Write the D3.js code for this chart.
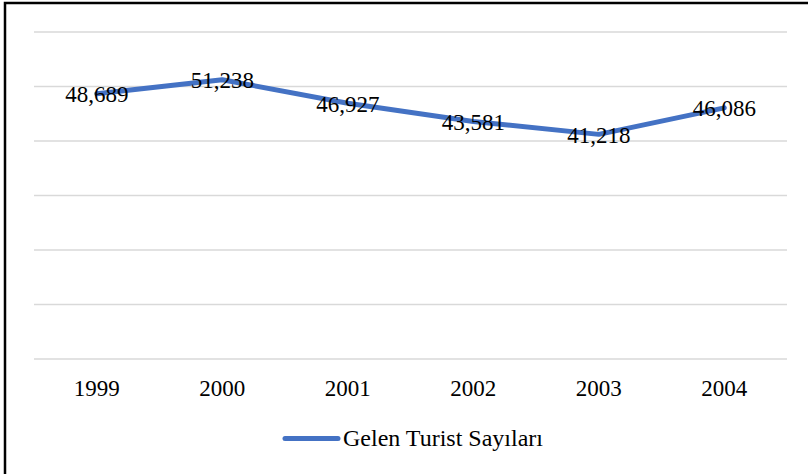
<!DOCTYPE html>
<html><head><meta charset="utf-8">
<script src="https://cdn.jsdelivr.net/npm/d3@7"></script>
<style>html,body{margin:0;padding:0;background:#fff;}svg{display:block;}
text{font-family:"Liberation Serif","Times New Roman","Tinos","DejaVu Serif",serif;}</style>
</head><body>
<svg id="c" width="808" height="474"></svg>
<script>
const years = ["1999","2000","2001","2002","2003","2004"];
const values = [48689, 51238, 46927, 43581, 41218, 46086];
const seriesName = "Gelen Turist Sayıları";
const yTicks = [0,10000,20000,30000,40000,50000,60000];

(function(){
const svg = d3.select("#c");
const W = 808, H = 474;
svg.append("rect").attr("width",W).attr("height",H).attr("fill","#fff");
// frame (top & left visible)
svg.append("rect").attr("x",5).attr("y",3).attr("width",W+10).attr("height",H+10)
  .attr("fill","none").attr("stroke","#000").attr("stroke-width",2.5);

const mL = 34, mR = 787, mT = 32, mB = 359;
const x = d3.scaleBand().domain(years).range([mL,mR]);
const y = d3.scaleLinear().domain([0,60000]).range([mB,mT]);

svg.append("g").selectAll("line").data(yTicks).join("line")
  .attr("x1",mL).attr("x2",mR)
  .attr("y1",d=>y(d)).attr("y2",d=>y(d))
  .attr("stroke","#d9d9d9").attr("stroke-width",1.3);

const xAxis = svg.append("g").attr("transform",`translate(0,${mB})`)
  .call(d3.axisBottom(x).tickSize(0).tickPadding(0));
xAxis.attr("font-family",null).attr("font-size",null);
xAxis.select(".domain").remove();
xAxis.selectAll("text").attr("dy",null).attr("y",37)
  .attr("font-size",23).attr("fill","#000");

const line = d3.line().x((d,i)=>x(years[i])+x.bandwidth()/2).y(d=>y(d));
svg.append("path").datum(values).attr("d",line)
  .attr("fill","none").attr("stroke","#4472c4").attr("stroke-width",5)
  .attr("stroke-linejoin","round").attr("stroke-linecap","round");

const fmt = d3.format(",");
svg.append("g").selectAll("text").data(values).join("text")
  .attr("x",(d,i)=>x(years[i])+x.bandwidth()/2)
  .attr("y",d=>y(d)+8.5)
  .attr("text-anchor","middle")
  .attr("font-size",23).attr("fill","#000")
  .text(d=>fmt(d));

// legend
const lg = svg.append("g");
lg.append("line").attr("x1",285).attr("x2",338).attr("y1",438.5).attr("y2",438.5)
  .attr("stroke","#4472c4").attr("stroke-width",5).attr("stroke-linecap","round");
lg.append("text").attr("x",343).attr("y",446)
  .attr("font-size",24).attr("fill","#000")
  .text(seriesName);
})();
</script>
</body></html>
